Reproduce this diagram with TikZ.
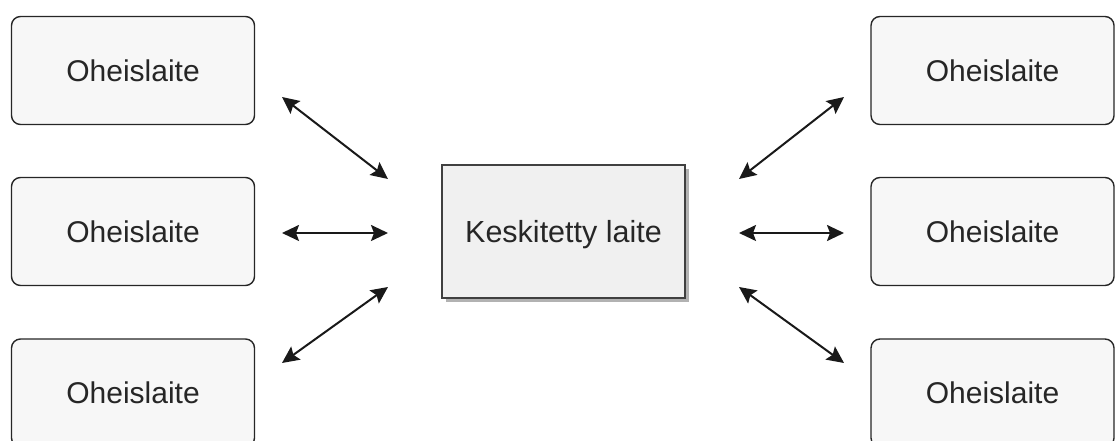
\documentclass[tikz,border=0pt]{standalone}
\usepackage{fontspec}
\setmainfont{Liberation Sans}
\usetikzlibrary{arrows.meta,shadows}
\tikzset{
  x=1pt,y=1pt,
  periph/.style={draw=black!85,line width=1.4pt,fill=black!3,rounded corners=9pt,
    minimum width=243pt,minimum height=108pt,inner sep=0pt,
    text height=21.5pt,text depth=0pt,
    font=\fontsize{30}{36}\selectfont,text=black!85},
  central/.style={draw=black!75,line width=1.5pt,fill=black!6,
    minimum width=243pt,minimum height=133pt,inner sep=0pt,
    text height=21.8pt,text depth=0pt,
    drop shadow={shadow xshift=4pt,shadow yshift=-4pt,fill=black!30,opacity=1},
    font=\fontsize{30.5}{36}\selectfont,text=black!85},
  link/.style={line width=2pt,draw=black!90,
    {Stealth[length=17pt,width=16pt,inset=3pt]}-{Stealth[length=17pt,width=16pt,inset=3pt]}}
}
\begin{document}
\begin{tikzpicture}
\useasboundingbox (0,0) rectangle (1115,441);
% centre
\node[central] (c) at (563.5,209.5) {Keskitetty laite};
% peripherals
\node[periph] (l1) at (133,370.5) {Oheislaite};
\node[periph] (l2) at (133,209.5) {Oheislaite};
\node[periph] (l3) at (133,48) {Oheislaite};
\node[periph] (r1) at (992.5,370.5) {Oheislaite};
\node[periph] (r2) at (992.5,209.5) {Oheislaite};
\node[periph] (r3) at (992.5,48) {Oheislaite};
% arrow ends
\coordinate (a1s) at (282,344);
\coordinate (a1e) at (388,262);
\coordinate (a2s) at (282,208);
\coordinate (a2e) at (388,208);
\coordinate (a3s) at (282,78);
\coordinate (a3e) at (388,154);
\coordinate (b1s) at (739,262);
\coordinate (b1e) at (844,344);
\coordinate (b2s) at (739,208);
\coordinate (b2e) at (844,208);
\coordinate (b3s) at (739,154);
\coordinate (b3e) at (844,78);
\draw[link] (a1s) -- (a1e);
\draw[link] (a2s) -- (a2e);
\draw[link] (a3s) -- (a3e);
\draw[link] (b1s) -- (b1e);
\draw[link] (b2s) -- (b2e);
\draw[link] (b3s) -- (b3e);
\end{tikzpicture}
\end{document}
